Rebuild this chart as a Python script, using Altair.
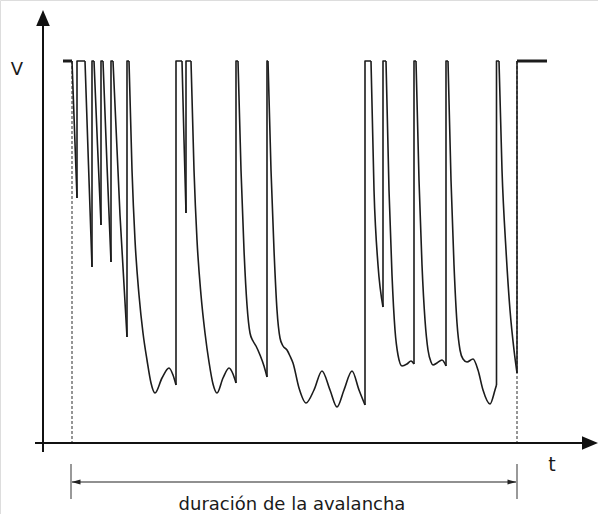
import altair as alt
import pandas as pd

# Reading origin of the drawing: t axis crosses at X0, V axis at Y0 (figure units)
X0, Y0 = 43, 443
TOP = 61  # saturated level of the trace

# Each fall of the trace as (x, y) in figure units
FALLS = [
    [(72, 61), (74.5, 130), (77, 198)],
    [(85, 61), (88.5, 165), (92, 267)],
    [(94, 61), (97.5, 145), (101, 225)],
    [(103, 61), (107, 165), (111, 262)],
    [(113, 61), (120, 215), (127, 337)],
    [(129, 61), (132, 170), (135, 240), (139, 295), (143, 333), (147, 360), (151, 383),
     (155, 393), (162, 378), (169, 368), (173, 375), (176, 385)],
    [(182, 61), (184, 140), (186, 213)],
    [(191, 61), (194, 170), (197, 240), (201, 295), (205, 333), (209, 362), (213, 384),
     (217, 393), (223, 378), (229, 368), (233, 374), (236, 383)],
    [(238, 61), (241, 170), (244, 250), (247, 305), (250, 333), (253, 341),
     (256, 346), (260, 355), (264, 366), (267, 377)],
    [(268, 61), (271, 170), (274, 250), (277, 310), (280, 338), (283, 346), (287, 350),
     (290, 356), (293, 363), (299, 388), (306, 403), (314, 390), (322, 371), (330, 390),
     (337, 407), (344, 390), (352, 371), (359, 390), (365, 405)],
    [(371, 61), (374, 190), (378, 265), (383, 307)],
    [(386, 61), (389, 190), (392, 275), (395, 330), (398, 355), (402, 366),
     (407, 364), (411, 361), (414, 364)],
    [(416, 61), (419, 180), (422, 265), (425, 320), (428, 350), (431, 362), (433, 365),
     (437, 363), (442, 360), (446, 366)],
    [(448, 61), (451, 180), (454, 265), (457, 323), (460, 350), (463, 359), (467, 362),
     (473, 359), (478, 370), (483, 390), (490, 404), (495, 390), (496.5, 385)],
    [(499, 61), (502, 170), (506, 250), (510, 310), (514, 350), (517, 373)],
]
START_FLAT = [(63, 61), (72, 61)]
END_FLAT = [(517, 61), (547, 61)]

# avalanche duration markers
AV_START, AV_END = 72, 517
BRACKET_L, BRACKET_R = 71, 517
BRACKET_TOP, BRACKET_BOT, BRACKET_MID = 464, 499, 482

LABELS = ["V", "t", "duración de la avalancha"]
LABEL_X = [17, 552, 292]
LABEL_Y = [70, 465, 505]
LABEL_SIZE = [18, 19, 18]


def tv(x, y):
    return x - X0, Y0 - y


# ---------- data frames ----------
fall_rows = []
for s, seg in enumerate(FALLS):
    for i, (x, y) in enumerate(seg):
        t, v = tv(x, y)
        fall_rows.append({"seg": s, "i": i, "t": t, "V": v})
falls_df = pd.DataFrame(fall_rows)

rise_rows = []
for s in range(len(FALLS) - 1):
    xb, yb = FALLS[s][-1]
    xn, yn = FALLS[s + 1][0]
    for i, (x, y) in enumerate([(xb, yb), (xb, TOP), (xn, yn)]):
        t, v = tv(x, y)
        rise_rows.append({"seg": s, "i": i, "t": t, "V": v})
xb, yb = FALLS[-1][-1]
for i, (x, y) in enumerate([(xb, yb), (xb, TOP)]):
    t, v = tv(x, y)
    rise_rows.append({"seg": 99, "i": i, "t": t, "V": v})
rise_df = pd.DataFrame(rise_rows)

flat_rows = []
for s, seg in enumerate([START_FLAT, END_FLAT]):
    for i, (x, y) in enumerate(seg):
        t, v = tv(x, y)
        flat_rows.append({"seg": s, "i": i, "t": t, "V": v})
flat_df = pd.DataFrame(flat_rows)

xs = alt.Scale(domain=[-X0, 598 - X0], nice=False, zero=False)
ys = alt.Scale(domain=[Y0 - 514, Y0], nice=False, zero=False)
X = lambda f="t": alt.X(f"{f}:Q", scale=xs, axis=None)
Y = lambda f="V": alt.Y(f"{f}:Q", scale=ys, axis=None)

# dotted avalanche limits
dots_df = pd.DataFrame({
    "t": [AV_START - X0, AV_END - X0],
    "V": [Y0 - TOP, Y0 - TOP],
    "V2": [0, 0],
})
dots = alt.Chart(dots_df).mark_rule(color="#8a8a8a", strokeWidth=1.8, strokeDash=[3, 2]).encode(
    x=X(), y=Y(), y2="V2:Q")

falls = alt.Chart(falls_df).mark_line(interpolate="monotone", color="#1c1c1c", strokeWidth=1.6).encode(
    x=X(), y=Y(), detail="seg:N", order="i:Q")
rises = alt.Chart(rise_df).mark_line(color="#1c1c1c", strokeWidth=1.6, strokeJoin="round").encode(
    x=X(), y=Y(), detail="seg:N", order="i:Q")
flats = alt.Chart(flat_df).mark_line(color="#1c1c1c", strokeWidth=3).encode(
    x=X(), y=Y(), detail="seg:N", order="i:Q")

# axes
axes_df = pd.DataFrame({
    "t": [35 - X0, 0], "t2": [590 - X0, 0],
    "V": [0, Y0 - 452], "V2": [0, Y0 - 22],
})
axes = alt.Chart(axes_df).mark_rule(color="#111111", strokeWidth=2).encode(
    x=X(), x2="t2:Q", y=Y(), y2="V2:Q")

up_df = pd.DataFrame({"t": [0], "V": [Y0 - 18]})
up_head = alt.Chart(up_df).mark_point(
    shape="M0,-1L0.85,1L-0.85,1Z", filled=True, size=256, color="#111111", opacity=1, strokeWidth=0
).encode(x=X(), y=Y())
right_df = pd.DataFrame({"t": [590 - X0], "V": [0]})
right_head = alt.Chart(right_df).mark_point(
    shape="M1,0L-1,0.85L-1,-0.85Z", filled=True, size=256, color="#111111", opacity=1, strokeWidth=0
).encode(x=X(), y=Y())

# duration bracket
brk_df = pd.DataFrame({
    "t": [BRACKET_L - X0, BRACKET_R - X0],
    "V": [Y0 - BRACKET_TOP] * 2, "V2": [Y0 - BRACKET_BOT] * 2,
})
brackets = alt.Chart(brk_df).mark_rule(color="#777777", strokeWidth=1.5).encode(
    x=X(), y=Y(), y2="V2:Q")
arrow_df = pd.DataFrame({"t": [AV_START - X0], "t2": [AV_END - 1 - X0], "V": [Y0 - BRACKET_MID]})
arrow_line = alt.Chart(arrow_df).mark_rule(color="#222222", strokeWidth=1.2).encode(
    x=X(), x2="t2:Q", y=Y())
heads_df = pd.DataFrame({
    "t": [AV_START + 4 - X0, AV_END - 5 - X0],
    "V": [Y0 - BRACKET_MID] * 2,
    "dir": ["l", "r"],
})
lhead = alt.Chart(heads_df[heads_df.dir == "l"]).mark_point(
    shape="M-1,0L1,-0.55L1,0.55Z", filled=True, size=81, color="#222222", opacity=1, strokeWidth=0
).encode(x=X(), y=Y())
rhead = alt.Chart(heads_df[heads_df.dir == "r"]).mark_point(
    shape="M1,0L-1,-0.55L-1,0.55Z", filled=True, size=81, color="#222222", opacity=1, strokeWidth=0
).encode(x=X(), y=Y())

# labels
lab_df = pd.DataFrame({
    "label": LABELS,
    "t": [x - X0 for x in LABEL_X],
    "V": [Y0 - y for y in LABEL_Y],
    "size": LABEL_SIZE,
})
labels = alt.Chart(lab_df).mark_text(
    font="DejaVu Sans", color="#1a1a1a", align="center", baseline="middle"
).encode(x=X(), y=Y(), text="label:N", size=alt.Size("size:Q", scale=None, legend=None))

chart = alt.layer(
    dots, brackets, arrow_line, lhead, rhead, axes, up_head, right_head,
    falls, rises, flats, labels
).properties(
    width=598, height=514, padding=0, autosize=alt.AutoSizeParams(type="none")
).configure_view(strokeWidth=0).configure(background="white")

chart.save("out.html", embed_options={"renderer": "svg", "actions": False})
